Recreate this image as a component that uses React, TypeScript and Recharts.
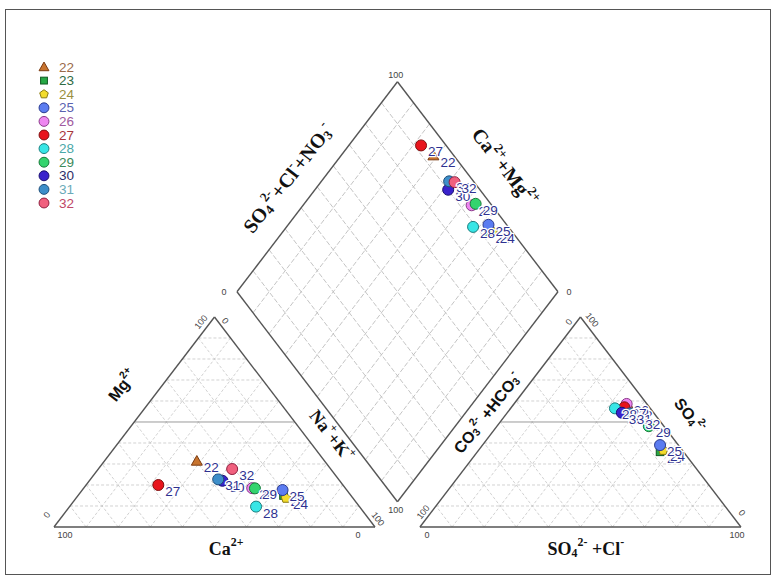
import { ScatterChart, Scatter, XAxis, YAxis, ReferenceLine, Legend } from 'recharts'

const samples = ['22', '23', '24', '25', '26', '27', '28', '29', '30', '31', '32']
// cations (% meq/L); Ca2+ = 100 - Mg - NaK
const mg = [31.4, 15, 13.7, 17.6, 18.5, 20, 9.7, 18.4, 22, 22.7, 27.6]
const naK = [28.8, 64, 65.4, 62.4, 52.5, 22.5, 58.1, 53.4, 41.5, 39.8, 41.7]
// anions (% meq/L); CO3+HCO3 = 100 - SO4 - Cl
const so4 = [56, 35.8, 36.5, 39, 58.6, 57, 56.5, 48, 54.4, 54.1, 51.8]
const cl = [37.6, 56.9, 57.5, 55.3, 35.1, 35.2, 32.5, 47.3, 35.7, 38.3, 42.1]

const kinds = ['triangle', 'square', 'pentagon', 'circle', 'circle', 'circle', 'circle', 'circle', 'circle', 'circle', 'circle']
const fills = ['#c8742e', '#27a845', '#f3dc2c', '#5b7cf0', '#ee86f0', '#e8141c', '#38e6e6', '#34d46e', '#3a22cc', '#3d8ec9', '#f0607e']
const strokes = ['#7a3a10', '#125a22', '#8a7a10', '#2a3a90', '#8a3a8a', '#801010', '#1a8080', '#1a7a3a', '#1a1070', '#1f4f7a', '#902040']
const legendColors = ['#9a6a4a', '#2f6b44', '#9a8f40', '#5a62b0', '#a05aa0', '#a8343c', '#4aa8a8', '#3a8a5a', '#2e2e6a', '#6aaab8', '#c04868']

// piper layout (x: triangle side = 100, y: triangle height = 100)
const GAP = 14
const DIA_Y = 12
const A1 = [0, 0], B1 = [100, 0], C1 = [50, 100]
const A2 = [100 + GAP, 0], B2 = [200 + GAP, 0], C2 = [150 + GAP, 100]
const DB = [100 + GAP / 2, DIA_Y], DL = [50 + GAP / 2, DIA_Y + 100], DR = [150 + GAP / 2, DIA_Y + 100], DT = [100 + GAP / 2, DIA_Y + 200]

const cation = (i: number) => ({ x: naK[i] + mg[i] / 2, y: mg[i] })
const anion = (i: number) => ({ x: A2[0] + cl[i] + so4[i] / 2, y: so4[i] })
const diamond = (i: number) => {
  const s = so4[i] + cl[i]
  const n = naK[i]
  return { x: DL[0] + (s + n) / 2, y: DL[1] + s - n }
}

const lerp = (p: number[], q: number[], t: number) => ({ x: p[0] + (q[0] - p[0]) * t, y: p[1] + (q[1] - p[1]) * t })

type Seg = { a: { x: number; y: number }; b: { x: number; y: number }; kind: string }
const segs: Seg[] = []
for (const [A, B, C] of [[A1, B1, C1], [A2, B2, C2]]) {
  for (let k = 1; k < 10; k++) {
    const t = k / 10
    segs.push({ a: lerp(A, C, t), b: lerp(B, C, t), kind: k === 5 ? 'mid' : 'grid' })
    segs.push({ a: lerp(A, B, t), b: lerp(B, C, 1 - t), kind: 'grid' })
    segs.push({ a: lerp(A, B, 1 - t), b: lerp(A, C, 1 - t), kind: 'grid' })
  }
}
for (let k = 1; k < 10; k++) {
  const t = k / 10
  segs.push({ a: lerp(DL, DT, t), b: lerp(DB, DR, t), kind: 'dgrid' })
  segs.push({ a: lerp(DL, DB, t), b: lerp(DT, DR, t), kind: 'dgrid' })
}
const edges = [[A1, B1], [B1, C1], [C1, A1], [A2, B2], [B2, C2], [C2, A2], [DB, DL], [DL, DT], [DT, DR], [DR, DB]]
for (const [p, q] of edges) segs.push({ a: lerp(p, q, 0), b: lerp(p, q, 1), kind: 'edge' })

const segStyle: Record<string, any> = {
  grid: { stroke: '#c6c6c6', strokeWidth: 0.8, strokeDasharray: '3 2' },
  dgrid: { stroke: '#bdbdbd', strokeWidth: 0.9, strokeDasharray: '5 2' },
  mid: { stroke: '#9a9a9a', strokeWidth: 1 },
  edge: { stroke: '#555', strokeWidth: 1.4 },
}

const SERIF = '"Liberation Serif", "Times New Roman", serif'
const SANS = '"Liberation Sans", Arial, sans-serif'

// axis titles and tick labels (positions in piper units)
const titles = [
  { text: 'Mg^{2+}', x: 21.2, y: 67.6, rot: -52, size: 16, font: SANS },
  { text: 'Na^{+}+K^{+}', x: 86.5, y: 43.5, rot: 52, size: 18, font: SERIF },
  { text: 'Ca^{2+}', x: 53.6, y: -10.3, rot: 0, size: 18, font: SERIF },
  { text: 'CO_{3}^{2-} +HCO_{3}^{-}', x: 134.9, y: 54.5, rot: -52, size: 16, font: SANS },
  { text: 'SO_{4}^{2-}', x: 198.1, y: 53.3, rot: 52, size: 16, font: SANS },
  { text: 'SO_{4}^{2-} +Cl^{-}', x: 165.7, y: -10.3, rot: 0, size: 18, font: SERIF },
  { text: 'SO_{4}^{2-}+Cl^{-}+NO_{3}^{-}', x: 72.9, y: 166.2, rot: -52, size: 20, font: SERIF },
  { text: 'Ca^{2+}+Mg^{2+}', x: 140.5, y: 171.4, rot: 52, size: 20, font: SERIF },
]
const ticks = [
  { text: '100', x: 3.4, y: -3.8, rot: 0 }, { text: '0', x: 94.7, y: -3.8, rot: 0 },
  { text: '0', x: -2.2, y: 5.7, rot: -52 }, { text: '100', x: 45.8, y: 97.6, rot: -52 },
  { text: '0', x: 53.3, y: 98.1, rot: 52 }, { text: '100', x: 100.9, y: 3.8, rot: 52 },
  { text: '0', x: 116.2, y: -3.8, rot: 0 }, { text: '100', x: 212.8, y: -3.8, rot: 0 },
  { text: '100', x: 115, y: 7.1, rot: -52 }, { text: '0', x: 160.4, y: 97.6, rot: -52 },
  { text: '100', x: 167.6, y: 98.6, rot: 52 }, { text: '0', x: 214.3, y: 6.7, rot: 52 },
  { text: '100', x: 106.5, y: 215.2, rot: 0 }, { text: '0', x: 53, y: 111.9, rot: 0 },
  { text: '0', x: 160.4, y: 111.9, rot: 0 }, { text: '100', x: 106.5, y: 8.1, rot: 0 },
].map((t) => ({ ...t, size: 9, font: SANS, fill: '#444', bold: false }))

function richParts(s: string) {
  const parts: { t: string; k: string }[] = []
  const re = /(\^|_)\{([^}]*)\}/g
  let last = 0
  let m: RegExpExecArray | null
  while ((m = re.exec(s))) {
    if (m.index > last) parts.push({ t: s.slice(last, m.index), k: 'n' })
    parts.push({ t: m[2], k: m[1] === '^' ? 'sup' : 'sub' })
    last = re.lastIndex
  }
  if (last < s.length) parts.push({ t: s.slice(last), k: 'n' })
  return parts
}

function RichText(props: any) {
  const { cx, cy, payload } = props
  const { text, rot, size, font, fill = '#111', bold = true } = payload
  let cur = 0
  return (
    <text
      x={cx}
      y={cy}
      transform={`rotate(${rot} ${cx} ${cy})`}
      textAnchor="middle"
      dominantBaseline="central"
      fontFamily={font}
      fontWeight={bold ? 'bold' : 'normal'}
      fontSize={size}
      fill={fill}
    >
      {richParts(text).map((p, i) => {
        const target = p.k === 'sup' ? -0.36 * size : p.k === 'sub' ? 0.22 * size : 0
        const dy = target - cur
        cur = target
        return (
          <tspan key={i} dy={dy} fontSize={p.k === 'n' ? size : size * 0.66}>
            {p.t}
          </tspan>
        )
      })}
    </text>
  )
}

function Marker({ cx, cy, kind, fill, stroke, s = 1 }: any) {
  if (kind === 'triangle') {
    const r = 5.5 * s
    return <polygon points={`${cx},${cy - r} ${cx + r},${cy + r * 0.75} ${cx - r},${cy + r * 0.75}`} fill={fill} stroke={stroke} strokeWidth={1} />
  }
  if (kind === 'square') {
    const r = 3.8 * s
    return <rect x={cx - r} y={cy - r} width={2 * r} height={2 * r} fill={fill} stroke={stroke} strokeWidth={1} />
  }
  if (kind === 'pentagon') {
    const r = 5 * s
    const pts = [0, 1, 2, 3, 4].map((k) => {
      const a = -Math.PI / 2 + (k * 2 * Math.PI) / 5
      return `${cx + r * Math.cos(a)},${cy + r * Math.sin(a)}`
    })
    return <polygon points={pts.join(' ')} fill={fill} stroke={stroke} strokeWidth={1} />
  }
  return <circle cx={cx} cy={cy} r={5.5 * s} fill={fill} stroke={stroke} strokeWidth={1} />
}

const seriesData = samples.map((name, i) => [cation(i), anion(i), diamond(i)].map((p) => ({ ...p, name })))
const labelData = seriesData.flat()
const textData = [...titles, ...ticks]

function LegendBox() {
  return (
    <svg width={70} height={155}>
      {samples.map((name, i) => {
        const y = 9 + i * 13.6
        return (
          <g key={name}>
            <Marker cx={8} cy={y} kind={kinds[i]} fill={fills[i]} stroke={strokes[i]} s={0.9} />
            <text x={23} y={y} dominantBaseline="central" fontFamily={SANS} fontSize={13.5} fill={legendColors[i]}>
              {name}
            </text>
          </g>
        )
      })}
    </svg>
  )
}

export default function App() {
  return (
    <div style={{ position: 'absolute', left: 0, top: 0, width: 775, height: 578, background: '#fff' }}>
      <div style={{ position: 'absolute', left: 5, top: 9, width: 764, height: 564, border: '1px solid #555' }} />
      <ScatterChart width={775} height={578} margin={{ top: 0, right: 0, bottom: 0, left: 0 }}>
        <XAxis type="number" dataKey="x" domain={[-16.82, 224.61]} allowDataOverflow hide />
        <YAxis type="number" dataKey="y" domain={[-24.29, 250.95]} allowDataOverflow hide />
        {segs.map((s, i) => (
          <ReferenceLine key={i} segment={[s.a, s.b]} ifOverflow="visible" {...segStyle[s.kind]} />
        ))}
        {samples.map((name, i) => (
          <Scatter
            key={name}
            name={name}
            data={seriesData[i]}
            isAnimationActive={false}
            shape={(p: any) => <Marker cx={p.cx} cy={p.cy} kind={kinds[i]} fill={fills[i]} stroke={strokes[i]} />}
          />
        ))}
        <Scatter
          data={labelData}
          isAnimationActive={false}
          legendType="none"
          shape={(p: any) => (
            <text
              x={p.cx + 7}
              y={p.cy + 11}
              fontFamily={SANS}
              fontSize={13.5}
              fill="#2e3190"
              stroke="#fff"
              strokeWidth={2.5}
              paintOrder="stroke"
            >
              {p.payload.name}
            </text>
          )}
        />
        <Scatter data={textData} isAnimationActive={false} legendType="none" shape={(p: any) => <RichText {...p} />} />
        <Legend
          layout="vertical"
          align="center"
          verticalAlign="middle"
          wrapperStyle={{ left: 36, top: 58, width: 70, height: 155 }}
          content={() => <LegendBox />}
        />
      </ScatterChart>
    </div>
  )
}
